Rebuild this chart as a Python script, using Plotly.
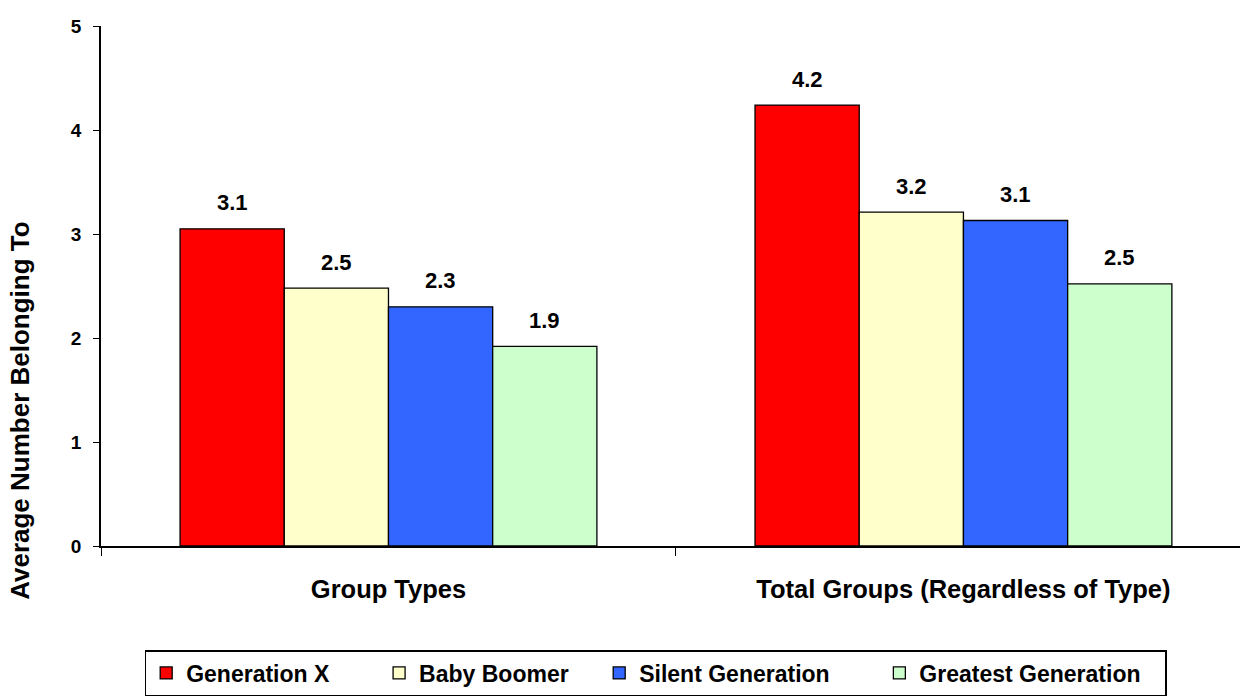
import plotly.graph_objects as go

categories = ["Group Types", "Total Groups (Regardless of Type)"]
series_names = ["Generation X", "Baby Boomer", "Silent Generation", "Greatest Generation"]
gen_x = [3.05, 4.24]
baby_boomer = [2.48, 3.21]
silent = [2.30, 3.13]
greatest = [1.92, 2.52]
label_gen_x = ["3.1", "4.2"]
label_baby_boomer = ["2.5", "3.2"]
label_silent = ["2.3", "3.1"]
label_greatest = ["1.9", "2.5"]
colors = ["#FF0000", "#FFFFCC", "#3366FF", "#CCFFCC"]
y_ticks = [0, 1, 2, 3, 4, 5]

values = [gen_x, baby_boomer, silent, greatest]
labels = [label_gen_x, label_baby_boomer, label_silent, label_greatest]
legend_pad = [7, 4, 7, 3]  # trailing spaces to space legend entries like the reference

FONT = "Liberation Sans, Arial, sans-serif"

W, H = 1240, 696
ML, MR, MT, MB = 101, 0, 26, 150
XRANGE = [-0.5, 1.481]
BARGAP = 0.275

fig = go.Figure()
for name, vals, col, pad in zip(series_names, values, colors, legend_pad):
    fig.add_trace(go.Bar(
        x=categories, y=vals, name="<b>" + name + "</b>" + "\u00a0" * pad,
        marker=dict(color=col, line=dict(color="black", width=1.3)),
    ))

# value labels as annotations, shifted over their bar
unit_px = (W - ML - MR) / (XRANGE[1] - XRANGE[0])
bar_px = unit_px * (1 - BARGAP) / len(series_names)
annotations = []
for i, (vals, labs) in enumerate(zip(values, labels)):
    for cat, v, lab in zip(categories, vals, labs):
        annotations.append(dict(
            x=cat, y=v, xref="x", yref="y", text="<b>" + lab + "</b>",
            showarrow=False, xanchor="center", yanchor="middle",
            xshift=(i - (len(series_names) - 1) / 2) * bar_px, yshift=26,
            font=dict(family=FONT, size=22, color="black"),
        ))

annotations.append(dict(
    text="<b>Average Number Belonging To</b>", textangle=-90,
    xref="paper", yref="paper", x=-0.0711, y=0.26,
    xanchor="center", yanchor="middle", showarrow=False,
    font=dict(family=FONT, size=26, color="black"),
))

fig.update_layout(
    width=W, height=H,
    margin=dict(l=ML, r=MR, t=MT, b=MB, autoexpand=False),
    paper_bgcolor="white", plot_bgcolor="white",
    barmode="group", bargap=BARGAP, bargroupgap=0,
    font=dict(family=FONT, color="black"),
    showlegend=True,
    legend=dict(
        orientation="h", x=0.487, xanchor="center", y=-0.2, yanchor="top",
        bordercolor="black", borderwidth=1.5, bgcolor="white",
        font=dict(family=FONT, size=23, color="black"),
        itemwidth=30,
    ),
    xaxis=dict(
        range=XRANGE, showline=True, linecolor="black", linewidth=1.5,
        ticks="outside", tickson="boundaries", ticklen=8, tickcolor="black",
        tickfont=dict(family=FONT, size=25.5, color="black"),
        tickvals=categories, ticktext=["<b>" + c + "</b>" for c in categories],
        ticklabelstandoff=20,
        showgrid=False,
    ),
    yaxis=dict(
        range=[0, 5], tickvals=y_ticks, ticktext=["<b>" + str(t) + "</b>" for t in y_ticks],
        showline=True, linecolor="black", linewidth=1.5,
        ticks="outside", ticklen=6, tickcolor="black",
        tickfont=dict(family=FONT, size=19, color="black"),
        ticklabelstandoff=8,
        showgrid=False, zeroline=False,
    ),
    annotations=annotations,
)

fig.write_html("out.html", config={"displayModeBar": False},
               post_script="document.body.style.margin='0';")
